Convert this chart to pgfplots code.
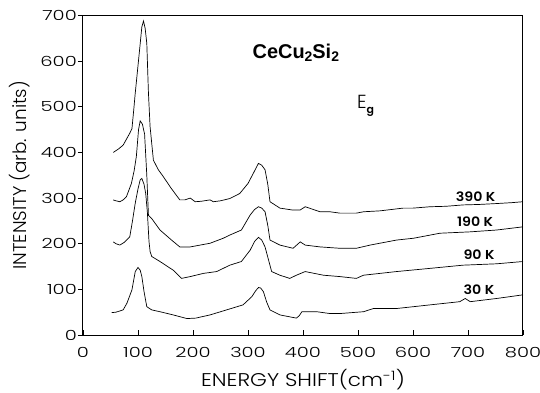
\documentclass[border=0pt]{standalone}
\usepackage{fontspec}
\setmainfont{Poppins}[UprightFont=* Light, BoldFont=* SemiBold]
\newfontfamily\popx{Poppins}[UprightFont=* Light, FakeStretch=1.17]
\newfontfamily\popt{Poppins}[UprightFont=* Light, FakeStretch=1.4]
\newfontfamily\popk{Poppins}[UprightFont=* SemiBold, FakeStretch=1.1]
\newfontfamily\helv{Liberation Sans}
\usepackage{pgfplots}
\pgfplotsset{compat=1.18}
\begin{document}
\begin{tikzpicture}
\useasboundingbox (-83bp,-58bp) rectangle (457bp,335bp);
\begin{axis}[
  at={(0,0)}, anchor=south west,
  scale only axis, width=440bp, height=319.5bp,
  xmin=0, xmax=800, ymin=0, ymax=700,
  xtick={0,100,...,800}, ytick={0,100,...,700},
  xtick pos=bottom, ytick pos=left,
  tick align=outside, major tick length=5bp,
  x tick style={yshift=5bp},
  tick style={black, line width=0.8bp},
  axis line style={line width=1bp},
  /pgf/number format/assume math mode=true,
  ticklabel style={font=\popt\fontsize{14}{15}\selectfont, inner sep=1bp},
  xticklabel style={yshift=-6bp},
  xlabel={ENERGY SHIFT(cm\textsuperscript{-1})},
  ylabel={INTENSITY (arb. units)},
  every axis x label/.style={at={(axis description cs:0.5,-0.139)},anchor=center,font=\popx\fontsize{18.5}{19}\selectfont},
  every axis y label/.style={at={(axis description cs:-0.143,0.5)},anchor=center,rotate=90,font=\fontsize{18.5}{19}\selectfont},
  clip=false,
]
\addplot[black, line width=0.7bp] coordinates {
(55,400)(65,408)(73,416)(85,442)(89,452)(92,490)(95,530)(101,602)(107,675)(110,688)(113,672)(116,639)(119,530)(122,456)(128,383)(137,362)(146,347)(160,322)(176,296)(185,296)(195,300)(204,292)(215,293)(231,296)(237,292)(250,294)(267,299)(285,310)(300,332)(310,355)(319,376)(325,372)(331,362)(336,330)(340,292)(358,278)(380,274)(395,274)(404,281)(431,270)(449,270)(467,267)(497,267)(510,270)(540,272)(582,278)(600,278)(631,281)(660,282)(691,285)(720,286)(752,288)(780,290)(800,292)
};
\addplot[black, line width=0.7bp] coordinates {
(55,296)(60,294)(67,292)(73,296)(79,303)(88,332)(93,360)(97,391)(101,450)(104,469)(108,462)(112,440)(116,350)(119,262)(125,255)(140,230)(161,208)(176,193)(195,193)(213,197)(231,201)(255,212)(267,219)(288,230)(304,263)(312,275)(319,281)(325,278)(331,270)(336,240)(340,208)(358,197)(382,190)(395,204)(404,197)(431,193)(467,190)(497,190)(522,197)(570,208)(601,212)(649,223)(704,226)(752,230)(800,237)
};
\addplot[black, line width=0.7bp] coordinates {
(55,204)(60,200)(67,197)(75,203)(85,215)(90,250)(95,289)(100,320)(104,340)(107,343)(111,330)(114,310)(117,270)(120,205)(122,183)(125,172)(140,161)(164,142)(179,124)(195,128)(219,135)(243,139)(267,153)(288,161)(304,186)(312,205)(319,214)(325,208)(331,193)(343,139)(358,131)(376,124)(388,131)(404,139)(437,131)(467,128)(497,124)(510,131)(570,139)(631,146)(691,153)(752,156)(800,161)
};
\addplot[black, line width=0.7bp] coordinates {
(52,49)(60,50)(73,55)(80,70)(89,99)(95,139)(100,148)(104,142)(107,128)(111,95)(116,62)(125,55)(140,51)(164,44)(189,36)(205,37)(231,44)(261,55)(291,66)(307,84)(314,97)(319,104)(323,103)(328,95)(334,72)(340,55)(358,44)(388,37)(393,42)(398,51)(425,51)(449,47)(467,47)(510,51)(528,58)(570,58)(631,66)(685,73)(695,80)(704,73)(752,80)(800,88)
};
\node[font=\popk\fontsize{13}{14}\selectfont] at (axis cs:714,303) {390 K};
\node[font=\popk\fontsize{13}{14}\selectfont] at (axis cs:713,248) {190 K};
\node[font=\popk\fontsize{13}{14}\selectfont] at (axis cs:720,175) {90 K};
\node[font=\popk\fontsize{13}{14}\selectfont] at (axis cs:720,99) {30 K};
\node[font=\helv\fontsize{20}{21}\selectfont\bfseries] at (axis cs:387,618) {CeCu\raisebox{-0.35ex}{\fontsize{14}{14}\selectfont 2}Si\raisebox{-0.35ex}{\fontsize{14}{14}\selectfont 2}};
\node[font=\fontsize{19}{20}\selectfont] at (axis cs:514,502) {E\raisebox{-0.4ex}{\fontsize{11}{12}\selectfont\bfseries g}};
\end{axis}
\end{tikzpicture}
\end{document}
